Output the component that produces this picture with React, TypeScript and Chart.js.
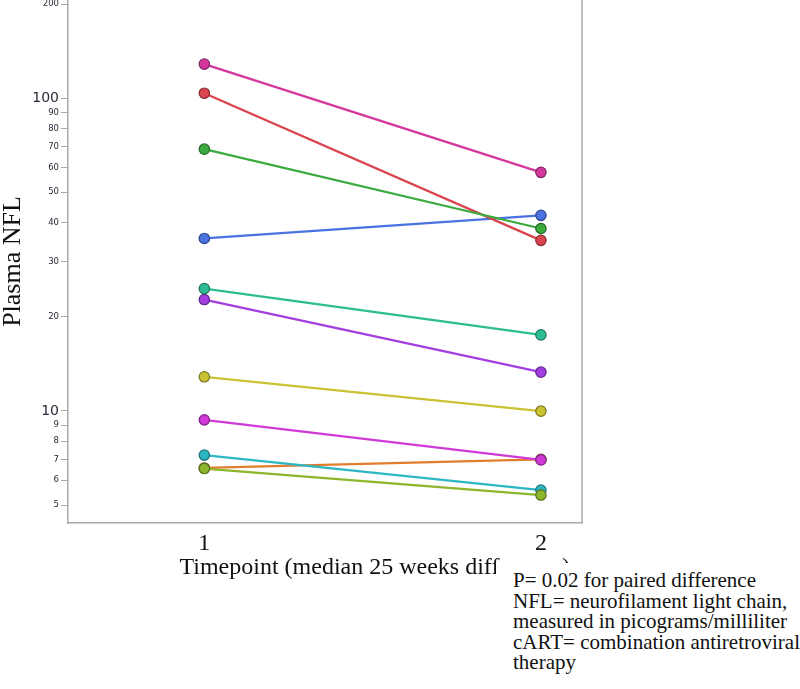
import React, { useEffect, useRef } from "react";
import { Chart, registerables } from "chart.js";

Chart.register(...registerables);

// Drawn first (bottom) to last (top)
const SUBJECTS = ["S10", "S9", "S11", "S8", "S7", "S6", "S5", "S4", "S2", "S3", "S1"];
const TIMEPOINTS = [1, 2];
const NFL_T1 = [6.57, 7.22, 6.54, 9.36, 12.85, 22.7, 24.6, 35.6, 103.7, 68.7, 128.5];
const NFL_T2 = [7.0, 5.58, 5.38, 6.97, 9.98, 13.3, 17.5, 42.2, 35.1, 38.3, 57.9];
const COLORS = [
  "#e27d2c", "#2db7c2", "#8db62c", "#cf3ad6", "#c9c233", "#a33ee0",
  "#2dbd93", "#4a72e0", "#d9444f", "#3cab3f", "#d4389f",
];
const BORDERS = [
  "#8a4a1a", "#1d6f76", "#56701b", "#7e2383", "#7b761f", "#63268a",
  "#1c745a", "#2d468a", "#852a30", "#256926", "#822261",
];
const Y_TICKS = [5, 6, 7, 8, 9, 10, 20, 30, 40, 50, 60, 70, 80, 90, 100, 200];
const Y_MAJOR = [10, 100];
const X_TITLE = "Timepoint (median 25 weeks difference)";
const Y_TITLE = "Plasma NFL";
const NOTES = [
  "P= 0.02 for paired difference",
  "NFL= neurofilament light chain,",
  "measured in picograms/milliliter",
  "cART= combination antiretroviral",
  "therapy",
];

const framePlugin = {
  id: "frameRight",
  afterDraw(chart: any) {
    const { ctx, chartArea } = chart;
    ctx.save();
    ctx.strokeStyle = "#aaaaaa";
    ctx.lineWidth = 1.5;
    ctx.beginPath();
    ctx.moveTo(chartArea.right, chartArea.top);
    ctx.lineTo(chartArea.right, chartArea.bottom);
    ctx.stroke();
    ctx.restore();
  },
};

export default function App() {
  const ref = useRef<HTMLCanvasElement | null>(null);

  useEffect(() => {
    if (!ref.current) return;
    const datasets = SUBJECTS.map((s, i) => ({
      label: s,
      data: TIMEPOINTS.map((t, j) => ({ x: t, y: j === 0 ? NFL_T1[i] : NFL_T2[i] })),
      borderColor: COLORS[i],
      backgroundColor: COLORS[i],
      pointBackgroundColor: COLORS[i],
      pointBorderColor: BORDERS[i],
      pointBorderWidth: 1.2,
      pointRadius: 5.2,
      borderWidth: 2.3,
      clip: false,
      order: SUBJECTS.length - 1 - i,
    }));
    const chart = new Chart(ref.current, {
      type: "line",
      data: { datasets },
      plugins: [framePlugin],
      options: {
        animation: false,
        responsive: false,
        layout: { autoPadding: false, padding: { left: 0, right: 218, top: 0, bottom: 107 } },
        plugins: { legend: { display: false }, tooltip: { enabled: false } },
        scales: {
          x: {
            type: "linear",
            min: 0.595,
            max: 2.122,
            afterBuildTicks: (scale: any) => {
              scale.ticks = TIMEPOINTS.map((v) => ({ value: v }));
            },
            afterFit: (scale: any) => {
              scale.height = 59;
              scale.paddingLeft = 0;
              scale.paddingRight = 0;
            },
            grid: { display: true, drawOnChartArea: false, drawTicks: false },
            border: { color: "#aaaaaa", width: 1.5 },
            ticks: {
              padding: 6,
              color: "#111",
              font: { family: "'Liberation Serif', 'Times New Roman', serif", size: 24 },
              callback: (v: any) => String(v),
            },
            title: {
              display: true,
              text: X_TITLE + "\u00A0\u00A0",
              align: "end",
              color: "#111",
              padding: { top: 0, bottom: 0 },
              font: { family: "'Liberation Serif', 'Times New Roman', serif", size: 24 },
            },
          },
          y: {
            type: "logarithmic",
            min: 4.38,
            max: 206,
            afterBuildTicks: (scale: any) => {
              scale.ticks = Y_TICKS.map((v) => ({ value: v }));
            },
            afterFit: (scale: any) => {
              scale.width = 68;
              scale.paddingTop = 0;
              scale.paddingBottom = 0;
            },
            grid: {
              display: true,
              drawOnChartArea: false,
              drawTicks: true,
              tickLength: 7,
              color: "#aaaaaa",
              lineWidth: 1,
            },
            border: { color: "#aaaaaa", width: 1.5 },
            ticks: {
              padding: 2,
              color: "#2a2a3a",
              autoSkip: false,
              font: (ctx: any) => {
                const v = ctx.tick ? ctx.tick.value : 0;
                return {
                  family: "'DejaVu Sans', Verdana, sans-serif",
                  size: Y_MAJOR.includes(v) ? 14 : 8.5,
                };
              },
              callback: (v: any) => String(v),
            },
            title: {
              display: true,
              text: Y_TITLE,
              color: "#111",
              padding: { top: 0, bottom: 0 },
              font: { family: "'Liberation Serif', 'Times New Roman', serif", size: 26, lineHeight: 1 },
            },
          },
        },
      },
    } as any);
    return () => chart.destroy();
  }, []);

  return (
    <div style={{ position: "absolute", left: 0, top: 0, width: 800, height: 689, background: "#fff" }}>
      <canvas ref={ref} width={800} height={689} style={{ display: "block" }} />
      <div
        style={{
          position: "absolute",
          left: 496,
          top: 563,
          width: 304,
          height: 126,
          background: "#fff",
          boxSizing: "border-box",
          paddingLeft: 17,
          paddingTop: 7,
          fontFamily: "'Liberation Serif', 'Times New Roman', serif",
          fontSize: 21,
          lineHeight: "20.5px",
          color: "#111",
          whiteSpace: "nowrap",
        }}
      >
        {NOTES.map((n, i) => (
          <div key={i}>{n}</div>
        ))}
      </div>
    </div>
  );
}
